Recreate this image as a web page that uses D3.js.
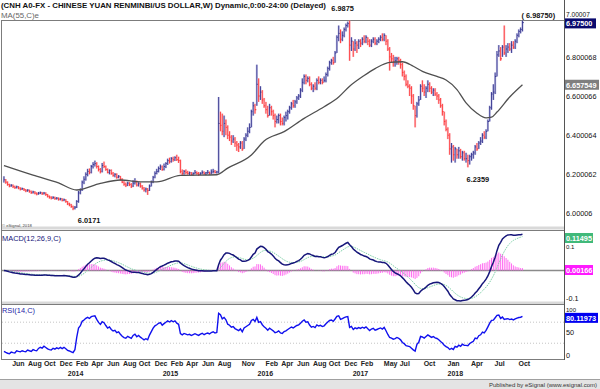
<!DOCTYPE html>
<html><head><meta charset="utf-8">
<script src="https://cdn.jsdelivr.net/npm/d3@7"></script>
<style>
html,body{margin:0;padding:0;background:#fff;}
svg{display:block;font-family:"Liberation Sans",Arial,sans-serif;}
</style></head><body>
<svg id="c" width="600" height="389"></svg>
<script>
// ---------------- DATA ----------------
const startWeek = "2013-05-06";   // first weekly bar
const close = [
6.172,6.160,6.148,6.141,6.144,6.137,6.132,6.136,6.130,6.125,
6.127,6.121,6.116,6.119,6.113,6.107,6.110,6.104,6.100,6.104,
6.106,6.101,6.104,6.097,6.088,6.083,6.079,6.082,6.076,6.078,
6.073,6.075,6.068,6.070,6.061,6.049,6.044,6.036,6.027,6.032,
6.062,6.105,6.120,6.160,6.175,6.200,6.215,6.210,6.240,6.250,
6.255,6.240,6.225,6.215,6.245,6.240,6.225,6.210,6.220,6.205,
6.195,6.200,6.185,6.190,6.175,6.160,6.150,6.145,6.155,6.148,
6.140,6.155,6.162,6.145,6.152,6.140,6.130,6.120,6.125,6.118,
6.140,6.160,6.185,6.205,6.215,6.230,6.238,6.225,6.240,6.255,
6.270,6.265,6.280,6.275,6.285,6.275,6.270,6.215,6.205,6.215,
6.210,6.205,6.208,6.200,6.205,6.210,6.205,6.200,6.206,6.210,
6.203,6.208,6.210,6.206,6.212,6.215,6.210,6.212,6.460,6.450,
6.420,6.460,6.440,6.400,6.390,6.370,6.380,6.360,6.350,6.340,
6.360,6.330,6.380,6.400,6.420,6.440,6.520,6.550,6.530,6.660,
6.600,6.620,6.580,6.550,6.530,6.500,6.540,6.520,6.500,6.470,
6.480,6.500,6.470,6.460,6.490,6.500,6.520,6.540,6.560,6.550,
6.570,6.590,6.600,6.630,6.670,6.700,6.680,6.690,6.660,6.640,
6.650,6.640,6.680,6.670,6.680,6.670,6.680,6.710,6.740,6.770,
6.780,6.770,6.820,6.900,6.920,6.890,6.910,6.940,6.960,6.970,
6.860,6.880,6.840,6.870,6.860,6.880,6.870,6.890,6.880,6.900,
6.880,6.860,6.880,6.890,6.870,6.880,6.890,6.900,6.890,6.910,
6.880,6.840,6.800,6.790,6.775,6.780,6.790,6.780,6.760,6.720,
6.700,6.660,6.650,6.640,6.600,6.550,6.500,6.560,6.580,6.650,
6.640,6.620,6.640,6.660,6.640,6.620,6.630,6.610,6.600,6.580,
6.550,6.520,6.470,6.430,6.400,6.330,6.340,6.300,6.330,6.300,
6.320,6.290,6.310,6.280,6.280,6.270,6.290,6.300,6.310,6.340,
6.330,6.360,6.370,6.400,6.390,6.420,6.470,6.540,6.610,6.620,
6.700,6.810,6.830,6.790,6.850,6.820,6.840,6.850,6.840,6.860,
6.850,6.880,6.910,6.930,6.940,6.975];
const high = [
6.190,6.176,6.164,6.152,6.150,6.148,6.142,6.142,6.140,6.134,
6.132,6.130,6.125,6.124,6.122,6.117,6.116,6.114,6.108,6.110,
6.112,6.110,6.110,6.108,6.100,6.092,6.088,6.088,6.086,6.084,
6.082,6.080,6.078,6.076,6.073,6.064,6.055,6.049,6.040,6.038,
6.068,6.115,6.128,6.168,6.190,6.210,6.228,6.230,6.248,6.262,
6.270,6.262,6.245,6.232,6.258,6.265,6.245,6.230,6.225,6.225,
6.212,6.206,6.205,6.196,6.192,6.180,6.165,6.158,6.162,6.160,
6.155,6.170,6.180,6.168,6.160,6.158,6.145,6.135,6.132,6.130,
6.148,6.168,6.192,6.215,6.228,6.240,6.250,6.245,6.255,6.262,
6.280,6.285,6.288,6.290,6.292,6.300,6.290,6.275,6.225,6.222,
6.225,6.218,6.214,6.212,6.210,6.222,6.215,6.212,6.210,6.220,
6.215,6.212,6.222,6.214,6.225,6.228,6.222,6.218,6.595,6.520,
6.510,6.500,6.480,6.450,6.420,6.400,6.400,6.390,6.370,6.360,
6.370,6.370,6.390,6.410,6.440,6.460,6.530,6.570,6.560,6.760,
6.690,6.650,6.630,6.590,6.570,6.550,6.560,6.550,6.530,6.510,
6.500,6.510,6.510,6.490,6.500,6.520,6.530,6.550,6.570,6.580,
6.580,6.600,6.610,6.640,6.690,6.710,6.710,6.700,6.700,6.670,
6.660,6.670,6.690,6.700,6.690,6.690,6.700,6.720,6.750,6.780,
6.790,6.800,6.830,6.910,6.960,6.940,6.930,6.950,6.970,6.980,
6.9875,6.900,6.880,6.890,6.880,6.890,6.890,6.900,6.910,6.910,
6.900,6.890,6.890,6.900,6.900,6.890,6.900,6.910,6.920,6.920,
6.910,6.890,6.850,6.820,6.810,6.800,6.800,6.800,6.790,6.770,
6.730,6.710,6.680,6.660,6.650,6.610,6.550,6.570,6.600,6.660,
6.680,6.660,6.650,6.680,6.670,6.650,6.640,6.640,6.620,6.610,
6.590,6.560,6.520,6.480,6.440,6.410,6.360,6.350,6.340,6.330,
6.340,6.330,6.320,6.320,6.310,6.300,6.300,6.310,6.320,6.350,
6.360,6.370,6.390,6.410,6.420,6.430,6.480,6.550,6.620,6.660,
6.720,6.830,6.860,6.850,6.860,6.960,6.860,6.870,6.870,6.880,
6.880,6.890,6.920,6.940,6.950,6.9875];
const low = [
6.158,6.152,6.142,6.134,6.136,6.130,6.126,6.128,6.124,6.118,
6.120,6.115,6.109,6.111,6.106,6.100,6.102,6.098,6.093,6.096,
6.099,6.095,6.097,6.090,6.082,6.076,6.072,6.074,6.070,6.071,
6.066,6.067,6.062,6.063,6.055,6.043,6.037,6.029,6.0171,6.021,
6.028,6.055,6.098,6.115,6.150,6.168,6.190,6.200,6.205,6.230,
6.240,6.230,6.215,6.205,6.210,6.232,6.218,6.205,6.200,6.198,
6.188,6.185,6.178,6.180,6.168,6.155,6.142,6.135,6.140,6.140,
6.130,6.135,6.148,6.138,6.138,6.132,6.122,6.112,6.108,6.095,
6.115,6.138,6.155,6.180,6.200,6.210,6.222,6.218,6.220,6.232,
6.248,6.255,6.260,6.265,6.268,6.268,6.258,6.205,6.195,6.198,
6.200,6.198,6.196,6.195,6.194,6.200,6.198,6.192,6.196,6.200,
6.198,6.196,6.202,6.198,6.200,6.205,6.205,6.204,6.205,6.420,
6.400,6.390,6.400,6.380,6.370,6.350,6.360,6.340,6.320,6.314,
6.330,6.320,6.330,6.370,6.390,6.410,6.440,6.500,6.510,6.550,
6.570,6.580,6.560,6.540,6.510,6.490,6.500,6.500,6.480,6.440,
6.460,6.460,6.450,6.450,6.450,6.470,6.480,6.510,6.530,6.540,
6.540,6.560,6.580,6.590,6.620,6.660,6.660,6.670,6.650,6.630,
6.620,6.630,6.630,6.660,6.660,6.660,6.670,6.670,6.700,6.730,
6.760,6.760,6.770,6.820,6.880,6.870,6.880,6.900,6.930,6.950,
6.780,6.830,6.800,6.830,6.820,6.840,6.850,6.860,6.870,6.870,
6.860,6.850,6.850,6.870,6.860,6.860,6.870,6.880,6.880,6.880,
6.860,6.830,6.730,6.770,6.750,6.750,6.760,6.760,6.740,6.700,
6.680,6.650,6.640,6.600,6.560,6.530,6.440,6.490,6.550,6.580,
6.620,6.600,6.590,6.620,6.620,6.610,6.600,6.600,6.580,6.560,
6.540,6.500,6.450,6.420,6.380,6.300,6.260,6.270,6.260,6.280,
6.280,6.280,6.270,6.270,6.260,6.2359,6.250,6.270,6.280,6.300,
6.320,6.330,6.350,6.360,6.380,6.380,6.420,6.470,6.530,6.580,
6.610,6.700,6.800,6.780,6.800,6.810,6.800,6.820,6.830,6.820,
6.840,6.840,6.870,6.900,6.920,6.930];
// MA(55): [week index, value]
const maIndex = [0,16,30,40,53,64,75,84,97,117,123,136,143,154,165,176,184,190,198,204,212,219,225,230,238,243,249,254,260,265,268,271,278,285];
const maValue = [6.245,6.196,6.156,6.120,6.154,6.171,6.162,6.162,6.195,6.198,6.232,6.299,6.370,6.418,6.486,6.545,6.595,6.650,6.705,6.740,6.772,6.775,6.752,6.726,6.700,6.682,6.633,6.565,6.512,6.488,6.492,6.518,6.595,6.657549];
const priceTicks = [6.00006,6.200062,6.400064,6.600066,6.800068,7.00007];
const priceTickLabels = ["6.00006","6.200062","6.400064","6.600066","6.800068","7.00007"];
const macdTicks = [0.1,-0.1];
const macdTickLabels = ["0.1","-0.1"];
const rsiTicks = [100,50,0];
const rsiTickLabels = ["100","50","0"];
const monthTicks = ["2013-06","2013-08","2013-10","2013-12","2014-02","2014-04","2014-06","2014-08","2014-10","2014-12","2015-02","2015-04","2015-06","2015-08","2015-11","2016-02","2016-04","2016-06","2016-08","2016-10","2016-12","2017-02","2017-05","2017-07","2017-10","2018-01","2018-04","2018-07","2018-10"];
const monthLabels = ["Jun","Aug","Oct","Dec","Feb","Apr","Jun","Aug","Oct","Dec","Feb","Apr","Jun","Aug","Nov","Feb","Apr","Jun","Aug","Oct","Dec","Feb","May","Jul","Oct","Jan","Apr","Jul","Oct"];
const yearTicks = ["2014-01","2015-01","2016-01","2017-01","2018-01"];
const yearLabels = ["2014","2015","2016","2017","2018"];
const lastPrice = 6.975, lastPriceLabel = "6.97500";
const maLast = 6.657549, maLastLabel = "6.657549";
const macdLast = 0.11495, macdLastLabel = "0.11495";
const histLast = 0.00166, histLastLabel = "0.00166";
const rsiLast = 80.11973, rsiLastLabel = "80.11973";
const titleText = "(CNH A0-FX - CHINESE YUAN RENMINBI/US DOLLAR,W) Dynamic,0:00-24:00 (Delayed)";

// ---------------- SETUP ----------------
const svg = d3.select("#c");
const parse = d3.timeParse("%Y-%m-%d"), parseM = d3.timeParse("%Y-%m");
const n = close.length;
const t0 = parse(startWeek);
const dates = d3.range(n).map(i => d3.timeDay.offset(t0, 7 * i));
const open = close.map((c, i) => i ? close[i - 1] : c);

const L = 2, R = 564;
const P = {top: 20.5, bot: 226.5}, M = {top: 230.5, bot: 302}, S = {top: 304.5, bot: 359.5};
const x = d3.scaleTime().domain([parse("2013-06-01"), parse("2018-10-01")]).range([10.7, 517]);
const yP = d3.scaleLinear().domain([6, 7]).range([213.5, 17.7]);
const yM = d3.scaleLinear().domain([-0.1, 0]).range([301, 270.5]);
const yR = d3.scaleLinear().domain([0, 100]).range([359, 306.4]);

// indicators
function ema(arr, len) { const k = 2 / (len + 1); let e = arr[0]; return arr.map((v, i) => i === 0 ? e : (e = v * k + e * (1 - k))); }
const e12 = ema(close, 12), e26 = ema(close, 26);
const macd = close.map((_, i) => e12[i] - e26[i]);
const signal = ema(macd, 9);
const hist = macd.map((m, i) => m - signal[i]);
const diffs = close.map((c, i) => i ? c - close[i - 1] : 0);
let ag = d3.mean(diffs.slice(1, 15), d => Math.max(d, 0));
let al = d3.mean(diffs.slice(1, 15), d => Math.max(-d, 0));
const rsi = close.map((c, i) => { if (i) { ag = (ag * 13 + Math.max(diffs[i], 0)) / 14; al = (al * 13 + Math.max(-diffs[i], 0)) / 14; } return 100 * ag / (ag + al); });

// clip paths
const defs = svg.append("defs");
[["cp", P], ["cm", M], ["cr", S]].forEach(([id, b]) => defs.append("clipPath").attr("id", id).append("rect").attr("x", L).attr("y", b.top).attr("width", R - L).attr("height", b.bot - b.top));

// ---------------- FRAMES ----------------
svg.append("rect").attr("x", 0).attr("y", 379).attr("width", 600).attr("height", 10).attr("fill", "#e4e4e4");
svg.append("line").attr("x1", 0).attr("x2", 600).attr("y1", 379.5).attr("y2", 379.5).attr("stroke", "#a0a0a0");
[226.5, 301.5].forEach(y => svg.append("rect").attr("x", L).attr("y", y).attr("width", R - L).attr("height", 3).attr("fill", "#d9d9d9"));
[[20.5], [230.5], [304.5], [359.5]].forEach(([y]) => svg.append("line").attr("x1", L).attr("x2", R).attr("y1", y).attr("y2", y).attr("stroke", "#7c7c7c"));
svg.append("line").attr("x1", 1.5).attr("x2", 1.5).attr("y1", 20).attr("y2", 360).attr("stroke", "#7c7c7c");
svg.append("line").attr("x1", R + 0.5).attr("x2", R + 0.5).attr("y1", 0).attr("y2", 360).attr("stroke", "#555");

// ---------------- PRICE PANEL ----------------
const gp = svg.append("g").attr("clip-path", "url(#cp)");
const up = i => close[i] >= open[i];
const bars = gp.selectAll("g.bar").data(d3.range(n)).join("g").attr("class", "bar");
bars.append("rect")
  .attr("x", i => x(dates[i]) - 1.1).attr("width", 2.2)
  .attr("y", i => yP(high[i])).attr("height", i => Math.max(1, yP(low[i]) - yP(high[i])))
  .attr("fill", i => up(i) ? "#a4a4da" : "#f8a9b2").attr("opacity", 0.6);
bars.append("line")
  .attr("x1", i => x(dates[i])).attr("x2", i => x(dates[i]))
  .attr("y1", i => yP(high[i])).attr("y2", i => yP(low[i]))
  .attr("stroke", i => up(i) ? "#2b2b88" : "#ff2a2a").attr("stroke-width", 0.85);
bars.append("line")
  .attr("x1", i => x(dates[i])).attr("x2", i => x(dates[i]) + 1.3)
  .attr("y1", i => yP(close[i])).attr("y2", i => yP(close[i]))
  .attr("stroke", i => up(i) ? "#2b2b88" : "#ff2a2a").attr("stroke-width", 1);

const maLine = d3.line().x((d, k) => x(dates[d])).y((d, k) => yP(maValue[k])).curve(d3.curveMonotoneX);
gp.append("path").attr("d", maLine(maIndex)).attr("fill", "none").attr("stroke", "#505050").attr("stroke-width", 1.3);

// annotations
const iHi = d3.maxIndex(high), iLo1 = d3.minIndex(low.slice(0, 100)), iLo2 = 200 + d3.minIndex(low.slice(200));
const bold = (sel) => sel.attr("font-weight", "bold").attr("font-size", "7.4px").attr("fill", "#111");
svg.append("text").attr("x", x(dates[iHi]) - 7).attr("y", 11).attr("text-anchor", "middle").text(high[iHi].toFixed(4)).call(bold);
svg.append("text").attr("x", x(dates[iLo1]) + 16).attr("y", 222.5).attr("text-anchor", "middle").text(low[iLo1].toFixed(4)).call(bold);
svg.append("text").attr("x", x(dates[iLo2]) + 10).attr("y", 182).attr("text-anchor", "middle").text(low[iLo2].toFixed(4)).call(bold);
svg.append("text").attr("x", x(dates[n - 1]) - 1).attr("y", 17.5).text("( " + high[n - 1].toFixed(5) + ")").call(bold);

svg.append("text").attr("x", 1).attr("y", 7.5).attr("font-size", "7.6px").attr("font-weight", "bold").attr("fill", "#111")
  .attr("textLength", 325).attr("lengthAdjust", "spacingAndGlyphs").text(titleText);
svg.append("text").attr("x", 1).attr("y", 18).attr("font-size", "7.6px").attr("fill", "#666")
  .attr("textLength", 38).attr("lengthAdjust", "spacingAndGlyphs").text("MA(55,C)e");
svg.append("text").attr("x", 2).attr("y", 226.5).attr("font-size", "4.2px").attr("fill", "#444").text("\u00a9 eSignal, 2018");

// right price axis
const axP = svg.append("g").attr("transform", `translate(${R},0)`)
  .call(d3.axisRight(yP).tickValues(priceTicks).tickFormat((d, i) => priceTickLabels[i]).tickSize(0).tickPadding(2));
axP.select(".domain").remove();
axP.selectAll("text").attr("font-size", "7.3px").attr("font-family", "Liberation Sans, Arial, sans-serif").attr("fill", "#111");
// top label sits just above the last-price box
axP.selectAll(".tick").filter(d => d > 6.9).select("text").attr("dy", "-0.25em").attr("font-size", "6.6px");

function valueBox(y, label, bg, w) {
  svg.append("rect").attr("x", R + 1).attr("y", y - 5).attr("width", w || 33).attr("height", 10).attr("fill", bg);
  svg.append("text").attr("x", R + 2).attr("y", y + 2.8).attr("font-size", "7.3px").attr("font-weight", "bold").attr("fill", "#fff").text(label);
}
valueBox(yP(lastPrice) + 0.8, lastPriceLabel, "#0a0a6e", 31);
valueBox(yP(maLast), maLastLabel, "#7f7f7f", 34);

// ---------------- MACD PANEL ----------------
const gm = svg.append("g").attr("clip-path", "url(#cm)");
gm.append("line").attr("x1", L).attr("x2", R).attr("y1", yM(0)).attr("y2", yM(0)).attr("stroke", "#8a8a8a").attr("stroke-width", 1.6);
gm.selectAll("line.h").data(d3.range(n)).join("line").attr("class", "h")
  .attr("x1", i => x(dates[i])).attr("x2", i => x(dates[i]))
  .attr("y1", yM(0)).attr("y2", i => yM(hist[i]))
  .attr("stroke", "#ff55ee").attr("stroke-width", 1).attr("opacity", 0.85);
gm.append("path").attr("d", d3.line().x((d, i) => x(dates[i])).y(d => yM(d))(signal))
  .attr("fill", "none").attr("stroke", "#7ccfa6").attr("stroke-width", 1).attr("stroke-dasharray", "1.5,1");
gm.append("path").attr("d", d3.line().x((d, i) => x(dates[i])).y(d => yM(d))(macd))
  .attr("fill", "none").attr("stroke", "#16167a").attr("stroke-width", 1.5);
svg.append("text").attr("x", 2).attr("y", 241).attr("font-size", "7.6px").attr("fill", "#16167a")
  .attr("textLength", 59).attr("lengthAdjust", "spacingAndGlyphs").text("MACD(12,26,9,C)");
const clampY = (y, b) => Math.max(b.top + 5, Math.min(b.bot - 4, y));
const macdBoxY = Math.max(yM(macdLast), M.top + 7.5);
svg.append("g").selectAll("text").data(macdTicks).join("text")
  .attr("x", R + 2).attr("y", d => (d > 0 ? macdBoxY + 10.5 : clampY(yM(d), M) + 2.6))
  .attr("font-size", d => d > 0 ? "6px" : "7.3px").attr("fill", "#111")
  .text((d, i) => macdTickLabels[i]);
valueBox(macdBoxY, macdLastLabel, "#41b97a", 28);
valueBox(yM(histLast), histLastLabel, "#ff1aff", 28);

// ---------------- RSI PANEL ----------------
const gr = svg.append("g").attr("clip-path", "url(#cr)");
[70, 30].forEach(v => gr.append("line").attr("x1", L).attr("x2", R).attr("y1", yR(v)).attr("y2", yR(v))
  .attr("stroke", "#c4c4c4").attr("stroke-dasharray", "1,2"));
gr.append("path").attr("d", d3.line().x((d, i) => x(dates[i])).y(d => yR(d))(rsi))
  .attr("fill", "none").attr("stroke", "#1010ee").attr("stroke-width", 1.4);
svg.append("text").attr("x", 2).attr("y", 313).attr("font-size", "7.6px").attr("fill", "#2525a8")
  .attr("textLength", 33).attr("lengthAdjust", "spacingAndGlyphs").text("RSI(14,C)");
const rsiBoxY = yR(rsiLast) + 1;
svg.append("g").selectAll("text").data(rsiTicks).join("text")
  .attr("x", R + 2).attr("y", d => (d === 100 ? rsiBoxY - 6.2 : clampY(yR(d), S) + 2.6))
  .attr("font-size", d => d === 100 ? "6px" : "7.3px").attr("fill", "#111")
  .text((d, i) => rsiTickLabels[i]);
valueBox(rsiBoxY, rsiLastLabel, "#0000f0", 33);

// ---------------- TIME AXIS ----------------
const axM = svg.append("g").attr("transform", "translate(0,361)")
  .call(d3.axisBottom(x).tickValues(monthTicks.map(parseM)).tickFormat((d, i) => monthLabels[i]).tickSize(0).tickPadding(0));
axM.select(".domain").remove();
axM.selectAll("text").attr("text-anchor", "start").attr("dx", "1").attr("font-size", "7px").attr("font-weight", "bold")
  .attr("font-family", "Liberation Sans, Arial, sans-serif").attr("fill", "#222");
const axY = svg.append("g").attr("transform", "translate(0,371)")
  .call(d3.axisBottom(x).tickValues(yearTicks.map(parseM)).tickFormat((d, i) => yearLabels[i]).tickSize(0).tickPadding(0));
axY.select(".domain").remove();
axY.selectAll("text").attr("text-anchor", "start").attr("dx", "1").attr("font-size", "7px").attr("font-weight", "bold")
  .attr("font-family", "Liberation Sans, Arial, sans-serif").attr("fill", "#222");

svg.append("text").attr("x", 597).attr("y", 387).attr("text-anchor", "end").attr("font-size", "6px").attr("fill", "#333")
  .text("Published by eSignal (www.esignal.com)");
</script>
</body></html>
